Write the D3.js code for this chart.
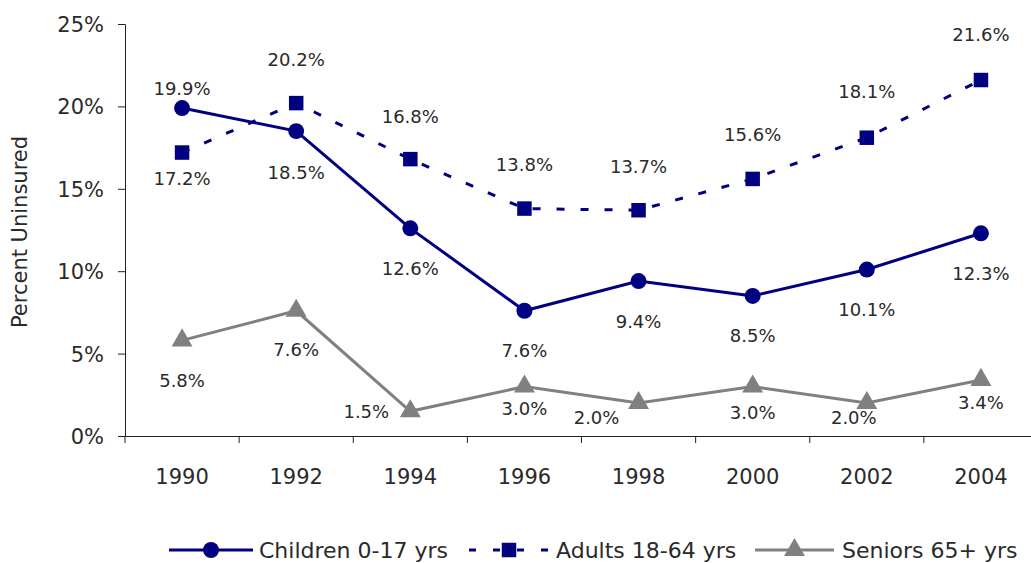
<!DOCTYPE html>
<html>
<head>
<meta charset="utf-8">
<script src="https://cdn.jsdelivr.net/npm/d3@7"></script>
<style>
  body { margin: 0; background: #fff; }
  svg text { font-family: "DejaVu Sans", sans-serif; fill: #2a2a2a; }
</style>
</head>
<body>
<svg id="chart" width="1031" height="563"></svg>
<script>
// chart data
const years = ["1990", "1992", "1994", "1996", "1998", "2000", "2002", "2004"];
const children = [19.9, 18.5, 12.6, 7.6, 9.4, 8.5, 10.1, 12.3];
const adults = [17.2, 20.2, 16.8, 13.8, 13.7, 15.6, 18.1, 21.6];
const seniors = [5.8, 7.6, 1.5, 3.0, 2.0, 3.0, 2.0, 3.4];
const yTicks = [0, 5, 10, 15, 20, 25];
const seriesNames = ["Children 0-17 yrs", "Adults 18-64 yrs", "Seniors 65+ yrs"];

const navy = "#000080";
const gray = "#808080";

const svg = d3.select("#chart");

const x = d3.scaleBand().domain(years).range([125, 1038]);
const y = d3.scaleLinear().domain([0, 25]).range([436, 24]);

// label offsets (dx, dy) from the marker, per series
const labelOffsets = {
    children: [[0, -20], [0, 41], [0, 40], [0, 40], [0, 40], [0, 40], [0, 40], [0, 40]],
    adults: [[0, 26], [0, -44], [0, -43], [0, -44], [0, -44], [0, -44], [0, -46], [0, -46]],
    seniors: [[0, 40], [0, 39], [-44, 0], [0, 22], [-42, 14], [0, 26], [-13, 14], [0, 23]]
};

// y axis
const yAxis = svg.append("g")
    .attr("transform", "translate(125,0)")
    .call(d3.axisLeft(y).tickValues(yTicks).tickSize(7).tickPadding(14).tickFormat(d => d + "%"));
yAxis.selectAll("text").style("font-size", "21px").attr("dy", "0.36em");

// x axis
const xAxis = svg.append("g")
    .attr("transform", "translate(0,436)")
    .call(d3.axisBottom(x).tickSize(0).tickPadding(33));
xAxis.selectAll("text").style("font-size", "21px");
xAxis.selectAll(".divider")
    .data(d3.range(years.length + 1))
    .enter().append("line")
    .attr("x1", i => 125 + i * x.step())
    .attr("x2", i => 125 + i * x.step())
    .attr("y1", 0).attr("y2", 7)
    .attr("stroke", "#222");

svg.selectAll(".domain").attr("stroke", "#222");
svg.selectAll(".tick line").attr("stroke", "#222");

// y axis title
svg.append("text")
    .attr("transform", "translate(27,232) rotate(-90)")
    .attr("text-anchor", "middle")
    .style("font-size", "21px")
    .text("Percent Uninsured");

const cx = d => x(d) + x.bandwidth() / 2;

const line = d3.line()
    .x((d, i) => cx(years[i]))
    .y(d => y(d));

function drawSeries(values, color, dash, shape, offsets) {
    const g = svg.append("g");
    g.append("path")
        .datum(values)
        .attr("d", line)
        .attr("fill", "none")
        .attr("stroke", color)
        .attr("stroke-width", 3)
        .attr("stroke-dasharray", dash);
    g.selectAll(".marker")
        .data(values)
        .enter().append("path")
        .attr("transform", (d, i) => "translate(" + cx(years[i]) + "," + y(d) + ")")
        .attr("d", d3.symbol().type(shape.type).size(shape.size))
        .attr("fill", color);
    g.selectAll(".lbl")
        .data(values)
        .enter().append("text")
        .attr("x", (d, i) => cx(years[i]) + offsets[i][0])
        .attr("y", (d, i) => y(d) + offsets[i][1])
        .attr("dy", "0.36em")
        .attr("text-anchor", "middle")
        .style("font-size", "18px")
        .text(d => d.toFixed(1) + "%");
}

drawSeries(seniors, gray, null, { type: d3.symbolTriangle, size: 190 }, labelOffsets.seniors);
drawSeries(children, navy, null, { type: d3.symbolCircle, size: 200 }, labelOffsets.children);
drawSeries(adults, navy, "8,16", { type: d3.symbolSquare, size: 210 }, labelOffsets.adults);

// legend
const legendItems = [
    { name: seriesNames[0], color: navy, dash: null, shape: d3.symbolCircle, size: 200, x0: 169, x1: 253, tx: 259 },
    { name: seriesNames[1], color: navy, dash: "7,17", shape: d3.symbolSquare, size: 210, x0: 469, x1: 549, tx: 556 },
    { name: seriesNames[2], color: gray, dash: null, shape: d3.symbolTriangle, size: 190, x0: 755, x1: 834, tx: 842 }
];
const legY = 550;
const leg = svg.append("g").selectAll("g").data(legendItems).enter().append("g");
leg.append("line")
    .attr("x1", d => d.x0).attr("x2", d => d.x1)
    .attr("y1", legY).attr("y2", legY)
    .attr("stroke", d => d.color)
    .attr("stroke-width", 3)
    .attr("stroke-dasharray", d => d.dash);
leg.append("path")
    .attr("transform", d => "translate(" + ((d.x0 + d.x1) / 2) + "," + legY + ")")
    .attr("d", d => d3.symbol().type(d.shape).size(d.size)())
    .attr("fill", d => d.color);
leg.append("text")
    .attr("x", d => d.tx)
    .attr("y", legY)
    .attr("dy", "0.36em")
    .style("font-size", "22px")
    .text(d => d.name);
</script>
</body>
</html>
